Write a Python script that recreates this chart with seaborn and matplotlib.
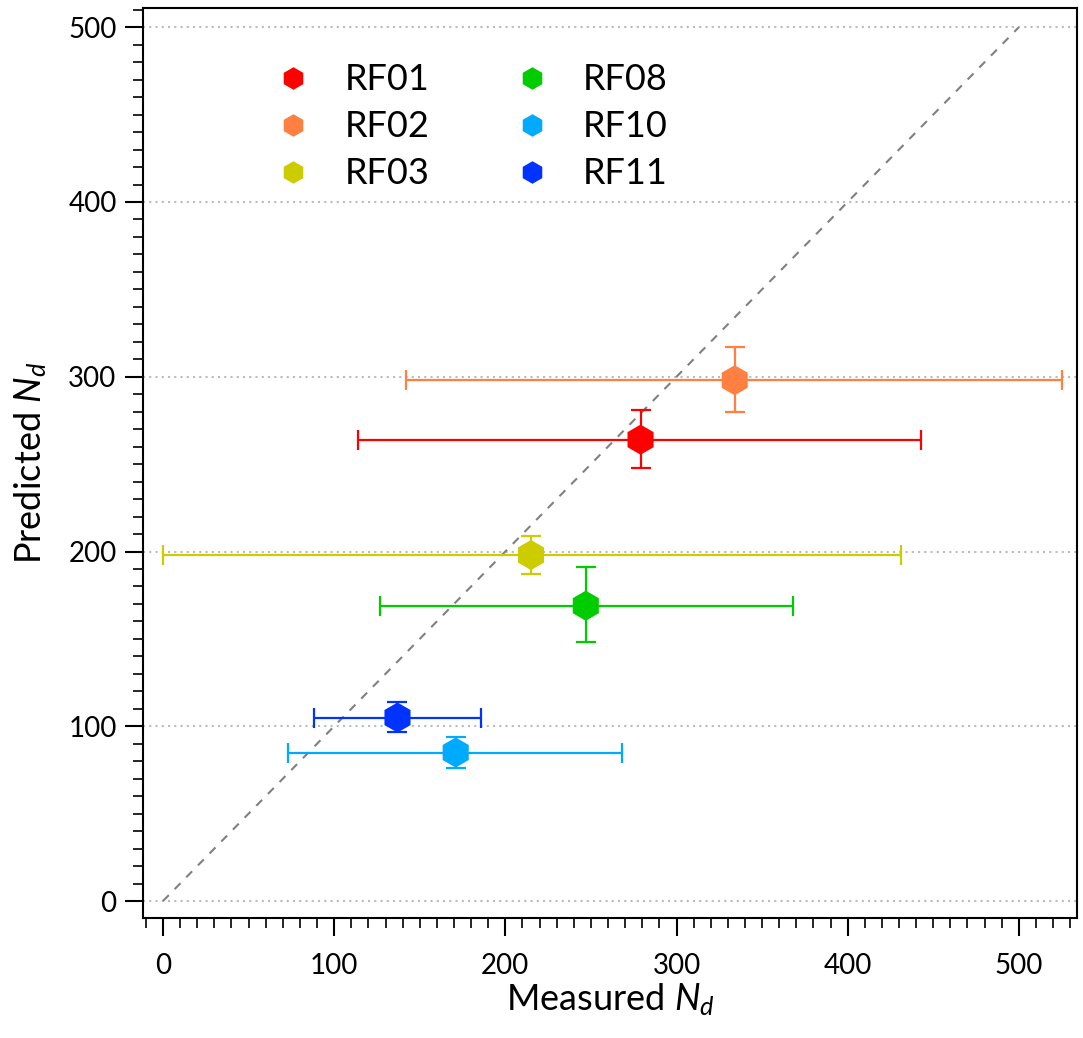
import numpy as np
import pandas as pd
import matplotlib
matplotlib.use("Agg")
import matplotlib.pyplot as plt
from matplotlib.ticker import MultipleLocator
import seaborn as sns

flights = ["RF01", "RF02", "RF03", "RF08", "RF10", "RF11"]
measured = [279, 334, 215, 247, 171, 137]
predicted = [264, 298, 198, 169, 85, 105]
meas_lo = [114, 142, 0, 127, 73, 88]
meas_hi = [443, 525, 431, 368, 268, 186]
pred_lo = [248, 280, 187, 148, 76, 97]
pred_hi = [281, 317, 209, 191, 94, 114]
colors = ["#FF0000", "#FF8040", "#CCCC00", "#00CC00", "#00AAFF", "#0033FF"]

df = pd.DataFrame({"flight": flights, "measured": measured, "predicted": predicted,
                   "mlo": meas_lo, "mhi": meas_hi, "plo": pred_lo, "phi": pred_hi})

sns.set_theme(style="white", rc={"text.color": "black", "axes.labelcolor": "black",
                                 "xtick.color": "black", "ytick.color": "black"})
plt.rcParams["font.family"] = ["Lato", "DejaVu Sans"]
plt.rcParams["mathtext.fontset"] = "custom"
plt.rcParams["mathtext.it"] = "Lato:italic"
plt.rcParams["mathtext.rm"] = "Lato"

fig = plt.figure(figsize=(10.83, 10.38), dpi=100)
ax = fig.add_axes([0.132, 0.1156, 0.8625, 0.8767])

# 1:1 line
ax.plot([0, 500], [0, 500], color="#808080", lw=1.5, dashes=(4, 4), zorder=1)

for _, r in df.iterrows():
    c = colors[flights.index(r["flight"])]
    ax.errorbar(r["measured"], r["predicted"],
                xerr=[[r["measured"] - r["mlo"]], [r["mhi"] - r["measured"]]],
                yerr=[[r["predicted"] - r["plo"]], [r["phi"] - r["predicted"]]],
                fmt="none", ecolor=c, elinewidth=1.6, capsize=7, capthick=1.6, zorder=2)

sns.scatterplot(data=df, x="measured", y="predicted", hue="flight", hue_order=flights,
                palette=colors, marker="h", s=470, linewidth=0, ax=ax, zorder=3, legend=True)

ax.set_xlim(-11.7, 534)
ax.set_ylim(-9.7, 511)
ax.xaxis.set_major_locator(MultipleLocator(100))
ax.xaxis.set_minor_locator(MultipleLocator(10))
ax.yaxis.set_major_locator(MultipleLocator(100))
ax.yaxis.set_minor_locator(MultipleLocator(10))
ax.tick_params(which="major", direction="out", length=13, width=1.5, labelsize=20,
               bottom=True, left=True, top=False, right=False, pad=6,
               color="black", labelcolor="black")
ax.tick_params(which="minor", direction="out", length=7, width=1.2,
               bottom=True, left=True, top=False, right=False, color="black")
ax.tick_params(axis="x", which="major", pad=12)
for s in ax.spines.values():
    s.set_linewidth(1.5)
    s.set_color("black")

ax.grid(False)
for yv in range(0, 501, 100):
    ax.axhline(yv, color="#BBBBBB", lw=1.5, ls=(0, (1, 2)), zorder=0)

ax.set_xlabel(r"Measured $N_d$", fontsize=26, labelpad=2, color="black")
ax.set_ylabel(r"Predicted $N_d$", fontsize=26, labelpad=14, color="black")

handles, labels = ax.get_legend_handles_labels()
leg = ax.legend(handles, labels, ncol=2, loc="upper left", bbox_to_anchor=(0.107, 0.975),
                frameon=False, fontsize=26, markerscale=0.75, handlelength=1.0,
                handletextpad=0.92, labelspacing=0.39, columnspacing=2.33,
                labelcolor="black")

fig.savefig("out.png", dpi=100)
